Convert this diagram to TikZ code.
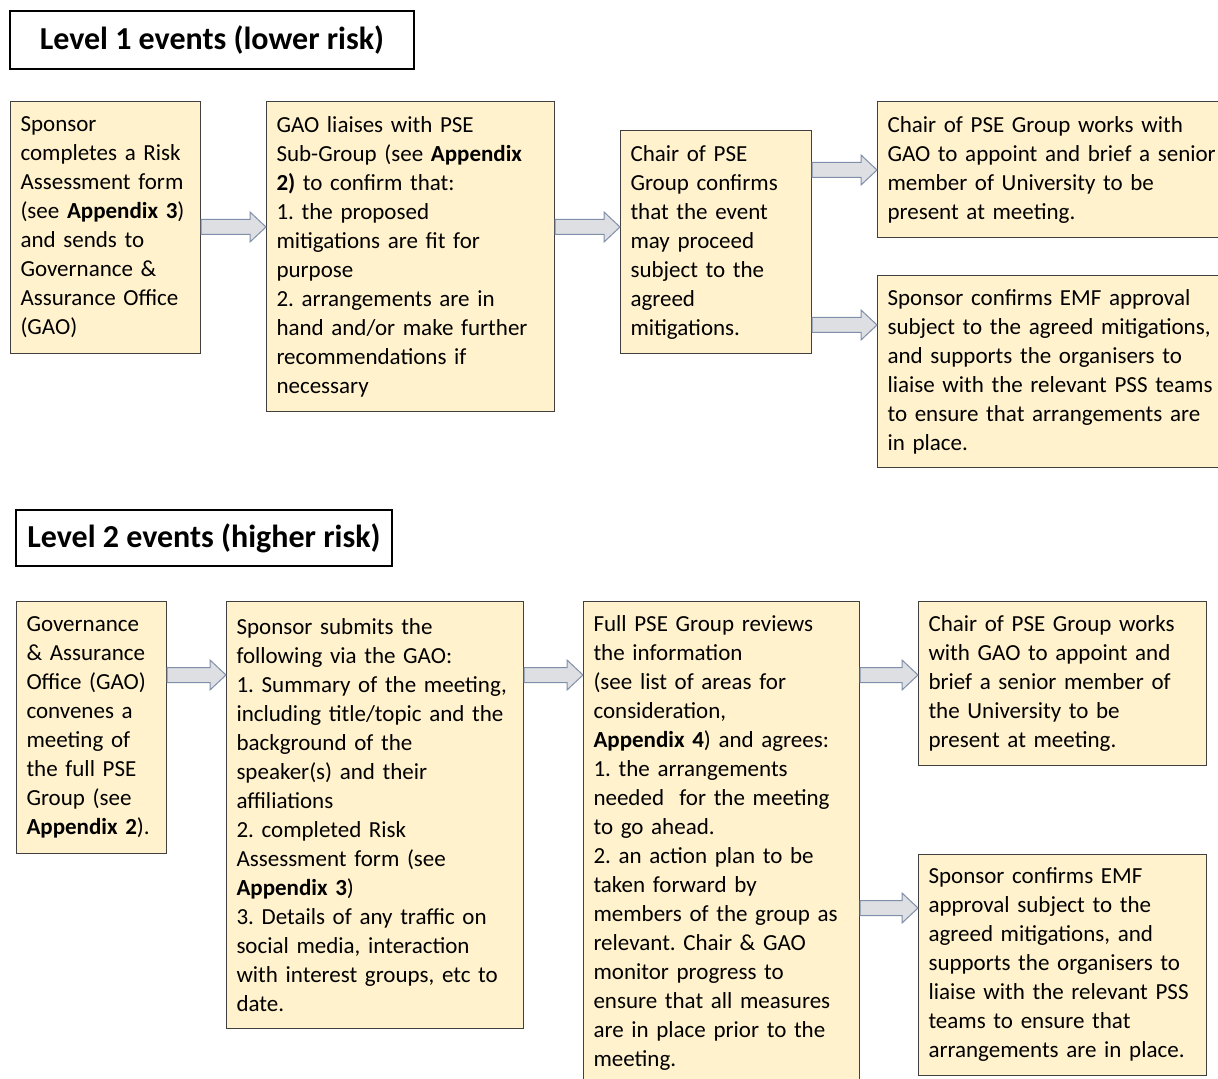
\documentclass[tikz,border=0pt]{standalone}
\usepackage{fontspec}
\setmainfont{Carlito}
\usetikzlibrary{calc,positioning}

\definecolor{boxfill}{HTML}{FFF2CC}
\definecolor{boxline}{HTML}{404040}
\definecolor{arrowfill}{HTML}{DDDFE3}
\definecolor{arrowline}{HTML}{7F8FA9}

\frenchspacing
\hyphenpenalty=10000

\begin{document}
\begin{tikzpicture}
	% Styles
	[
	x=0.5pt, y=-0.5pt,
	title/.style={draw=black, line width=0.8pt, fill=white, minimum width=202pt, minimum height=29pt, font=\fontsize{16}{19}\selectfont\bfseries},
	box/.style={draw=boxline, fill=boxfill, line width=0.5pt, anchor=north west, align=left, inner xsep=5pt, inner ysep=0pt, font=\fontsize{11.5}{14.5}\selectfont},
	blockarrow/.style={draw=arrowline, fill=arrowfill, line width=0.5pt, line join=miter,
		to path={let \p1=(\tikztostart), \p2=(\tikztotarget) in
		(\x1,\y1-3.75pt) -- (\x2-8pt,\y1-3.75pt) -- (\x2-8pt,\y1-7.5pt) -- (\x2,\y1)
		-- (\x2-8pt,\y1+7.5pt) -- (\x2-8pt,\y1+3.75pt) -- (\x1,\y1+3.75pt) -- cycle}},
	]
	\useasboundingbox (0,0) rectangle (1218,1079);

	% Titles
	\node at (212,40) (lvl1) [title, minimum width=202pt] {Level 1 events (lower risk)};
	\node at (204,538) (lvl2) [title, minimum width=188pt, minimum height=28pt] {Level 2 events (higher risk)};

	% Nodes, level 1
	\node at (10,101) (spons1) [box, text width=85pt, minimum height=126pt] {Sponsor\\completes a Risk\\Assessment form\\(see \textbf{Appendix 3})\\and sends to\\Governance \&\\Assurance Office\\(GAO)};
	\node at (266,101) (gao1) [box, text width=134pt, minimum height=155pt] {GAO liaises with PSE\\Sub-Group (see \textbf{Appendix}\\\textbf{2)} to confirm that:\\1. the proposed\\mitigations are fit for\\purpose\\2. arrangements are in\\hand and/or make further\\recommendations if\\necessary};
	\node at (620,130) (chair1) [box, text width=85.5pt, minimum height=111.5pt] {Chair of PSE\\Group confirms\\that the event\\may proceed\\subject to the\\agreed\\mitigations.};
	\node at (877,101) (brief1) [box, text width=172pt, minimum height=68pt] {Chair of PSE Group works with\\GAO to appoint and brief a senior\\member of University to be\\present at meeting.};
	\node at (877,275) (emf1) [box, text width=172pt, minimum height=96pt] {Sponsor confirms EMF approval\\subject to the agreed mitigations,\\and supports the organisers to\\liaise with the relevant PSS teams\\to ensure that arrangements are\\in place.};

	% Nodes, level 2
	\node at (16,601) (gao2) [box, text width=65pt, minimum height=126pt] {Governance\\\& Assurance\\Office (GAO)\\convenes a\\meeting of\\the full PSE\\Group (see\\\textbf{Appendix 2}).};
	\node at (226,601) (spons2) [box, text width=138.5pt, minimum height=213.5pt] {Sponsor submits the\\following via the GAO:\\1. Summary of the meeting,\\including title/topic and the\\background of the\\speaker(s) and their\\affiliations\\2. completed Risk\\Assessment form (see\\\textbf{Appendix 3})\\3. Details of any traffic on\\social media, interaction\\with interest groups, etc to\\date.};
	\node at (583,601) (full2) [box, text width=128pt, minimum height=241.5pt] {Full PSE Group reviews\\the information\\(see list of areas for\\consideration,\\\textbf{Appendix 4}) and agrees:\\1. the arrangements\\needed\ \ for the meeting\\to go ahead.\\2. an action plan to be\\taken forward by\\members of the group as\\relevant. Chair \& GAO\\monitor progress to\\ensure that all measures\\are in place prior to the\\meeting.};
	\node at (918,601) (brief2) [box, text width=134pt, minimum height=82pt] {Chair of PSE Group works\\with GAO to appoint and\\brief a senior member of\\the University to be\\present at meeting.};
	\node at (918,854) (emf2) [box, text width=134pt, minimum height=110.5pt] {Sponsor confirms EMF\\approval subject to the\\agreed mitigations, and\\supports the organisers to\\liaise with the relevant PSS\\teams to ensure that\\arrangements are in place.};

	% Arrow heights
	\coordinate (r1) at (0,227);
	\coordinate (r2) at (0,170);
	\coordinate (r3) at (0,325);
	\coordinate (r4) at (0,675);
	\coordinate (r5) at (0,908);

	% Arrows
	\draw[blockarrow] (spons1.east |- r1) to (gao1.west |- r1);
	\draw[blockarrow] (gao1.east |- r1) to (chair1.west |- r1);
	\draw[blockarrow] (chair1.east |- r2) to (brief1.west |- r2);
	\draw[blockarrow] (chair1.east |- r3) to (emf1.west |- r3);
	\draw[blockarrow] (gao2.east |- r4) to (spons2.west |- r4);
	\draw[blockarrow] (spons2.east |- r4) to (full2.west |- r4);
	\draw[blockarrow] (full2.east |- r4) to (brief2.west |- r4);
	\draw[blockarrow] (full2.east |- r5) to (emf2.west |- r5);
\end{tikzpicture}
\end{document}
